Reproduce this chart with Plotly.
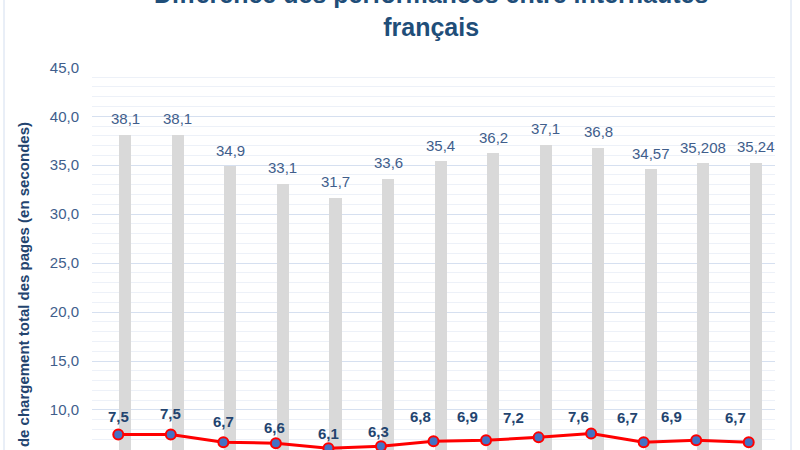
import plotly.graph_objects as go

# ---- data ----
bar_values = [38.1, 38.1, 34.9, 33.1, 31.7, 33.6, 35.4, 36.2, 37.1, 36.8, 34.57, 35.208, 35.24]
line_values = [7.5, 7.5, 6.7, 6.6, 6.1, 6.3, 6.8, 6.9, 7.2, 7.6, 6.7, 6.9, 6.7]
bar_labels = [str(v).replace(".", ",") for v in bar_values]
line_labels = [str(v).replace(".", ",") for v in line_values]
title_text = "Différence des performances entre internautes<br>français"
y_title = "Temps de chargement total des pages (en secondes)"

# ---- style ----
# manual label nudges (pixels) as placed in the original chart
line_label_dx = [0, 0, 0, -1, 0, -2, -13, -19, -25, -13, -16, -25, -13]
line_label_dy = [18, 21, 21, 16, 15, 15, 25, 24, 20, 17, 25, 24, 25]
BAR_OFFSET = 0.02
BAR_WIDTH = 0.23
FONT = "Liberation Sans, Arial, sans-serif"
TICK_COLOR = "#3F5E8C"
DARK = "#23446F"

idx = list(range(len(bar_values)))

fig = go.Figure()
fig.add_trace(go.Bar(
    x=idx, y=bar_values, width=BAR_WIDTH, offset=BAR_OFFSET,
    marker=dict(color="#D9D9D9", line=dict(width=0)),
    hoverinfo="y", showlegend=False,
))
fig.add_trace(go.Scatter(
    x=idx, y=line_values, mode="lines+markers",
    line=dict(color="#FF0000", width=3),
    marker=dict(size=10, color="#4472C4", line=dict(color="#FF0000", width=2)),
    cliponaxis=False, showlegend=False,
))

annotations = []
for i, (v, t) in enumerate(zip(bar_values, bar_labels)):
    annotations.append(dict(
        x=i + BAR_OFFSET + BAR_WIDTH / 2, y=v, xref="x", yref="y", text=t,
        showarrow=False, xanchor="center", yanchor="middle", yshift=16,
        font=dict(family=FONT, size=15, color=TICK_COLOR)))
for i, (v, t) in enumerate(zip(line_values, line_labels)):
    annotations.append(dict(
        x=i, y=v, xref="x", yref="y", text="<b>" + t + "</b>",
        showarrow=False, xanchor="center", yanchor="middle",
        xshift=line_label_dx[i], yshift=line_label_dy[i],
        font=dict(family=FONT, size=15, color=DARK)))
annotations.append(dict(
    x=-0.101, y=0.8616, xref="paper", yref="paper", text="<b>" + y_title + "</b>",
    textangle=-90, showarrow=False, xanchor="center", yanchor="top",
    font=dict(family=FONT, size=15, color=DARK)))
annotations.append(dict(
    x=397 / 800, y=1.0 + (67 - 43) / 383, xref="paper", yref="paper",
    text="<b>" + title_text + "</b>", showarrow=False,
    xanchor="center", yanchor="bottom",
    font=dict(family=FONT, size=25, color="#1F4E79")))

fig.update_layout(
    width=800, height=450,
    margin=dict(l=92, r=25, t=67, b=0, pad=0),
    paper_bgcolor="white", plot_bgcolor="white",
    separators=", ",
    font=dict(family=FONT),
    annotations=annotations,
    shapes=[dict(type="rect", xref="paper", yref="paper",
                 x0=(4 - 92) / 683, x1=(791 - 92) / 683, y0=-0.2, y1=1.3,
                 line=dict(color="#D3DEEF", width=1), layer="below")],
    xaxis=dict(range=[-0.5, 12.5], showticklabels=False, showgrid=False,
               zeroline=False, showline=False, ticks=""),
    yaxis=dict(range=[5.91, 45.03], dtick=5, tick0=0, tickformat=".1f",
               showgrid=True, gridcolor="#D6E0F0", gridwidth=1,
               minor=dict(dtick=1, showgrid=True, gridcolor="#EDF1F8", gridwidth=1),
               zeroline=False, showline=False, ticks="",
               ticklabelstandoff=12,
               tickfont=dict(family=FONT, size=15, color=TICK_COLOR)),
    bargap=0,
)

fig.write_html("out.html")
